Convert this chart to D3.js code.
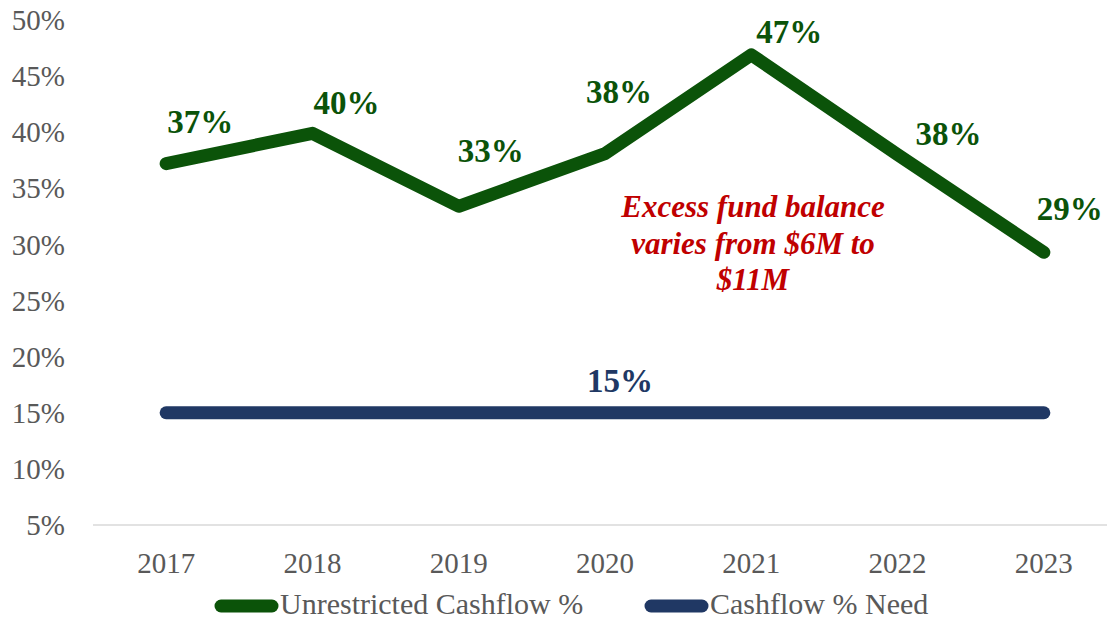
<!DOCTYPE html>
<html>
<head>
<meta charset="utf-8">
<script src="https://cdn.jsdelivr.net/npm/d3@7"></script>
<style>
  body { margin: 0; background: #fff; }
</style>
</head>
<body>
<svg id="chart" width="1107" height="621" font-family="'Liberation Serif', 'DejaVu Serif', serif"></svg>
<script>
"use strict";

// === Data ===
let years = ["2017", "2018", "2019", "2020", "2021", "2022", "2023"];
let unrestricted = [37.2, 39.9, 33.4, 38.1, 46.9, 38.0, 29.3];
let need = [15, 15, 15, 15, 15, 15, 15];
let yTicks = [5, 10, 15, 20, 25, 30, 35, 40, 45, 50];
let seriesNames = ["Unrestricted Cashflow %", "Cashflow % Need"];
let note = ["Excess fund balance", "varies from $6M to", "$11M"];

// label nudges (px from point), placed by hand like the original
let labelShift = [[34, -31], [34, -19], [32, -44], [14, -51], [38, -12], [51, -10], [26, -32]];
let needLabelShift = [15, -21];

let green = "#0b5309";
let navy = "#203864";
let grey = "#595959";

let svg = d3.select("#chart");

let x = d3.scaleBand().domain(years).range([93, 1117]);
let y = d3.scaleLinear().domain([5, 50]).range([525, 20]);
let cx = d => x(d) + x.bandwidth() / 2;

// === Y axis labels ===
svg.append("g")
  .selectAll("text")
  .data(yTicks)
  .join("text")
  .attr("x", 65)
  .attr("y", d => y(d))
  .attr("dy", "0.35em")
  .attr("text-anchor", "end")
  .attr("font-size", 29)
  .attr("fill", grey)
  .text(d => d + "%");

// === X axis ===
svg.append("line")
  .attr("x1", 93).attr("x2", 1107)
  .attr("y1", y(5)).attr("y2", y(5))
  .attr("stroke", "#d9d9d9")
  .attr("stroke-width", 1.5);

svg.append("g")
  .selectAll("text")
  .data(years)
  .join("text")
  .attr("x", d => cx(d))
  .attr("y", 573)
  .attr("text-anchor", "middle")
  .attr("font-size", 29)
  .attr("fill", grey)
  .text(d => d);

// === Lines ===
let line = d3.line().x((d, i) => cx(years[i])).y(d => y(d));

svg.append("path")
  .datum(need)
  .attr("d", line)
  .attr("fill", "none")
  .attr("stroke", navy)
  .attr("stroke-width", 13)
  .attr("stroke-linecap", "round");

svg.append("path")
  .datum(unrestricted)
  .attr("d", line)
  .attr("fill", "none")
  .attr("stroke", green)
  .attr("stroke-width", 13)
  .attr("stroke-linecap", "round")
  .attr("stroke-linejoin", "round");

// === Data labels ===
svg.append("g")
  .selectAll("text")
  .data(unrestricted)
  .join("text")
  .attr("x", (d, i) => cx(years[i]) + labelShift[i][0])
  .attr("y", (d, i) => y(d) + labelShift[i][1])
  .attr("text-anchor", "middle")
  .attr("font-size", 33)
  .attr("font-weight", "bold")
  .attr("fill", green)
  .text(d => Math.round(d) + "%");

svg.append("text")
  .attr("x", cx(years[3]) + needLabelShift[0])
  .attr("y", y(need[3]) + needLabelShift[1])
  .attr("text-anchor", "middle")
  .attr("font-size", 33)
  .attr("font-weight", "bold")
  .attr("fill", navy)
  .text(need[3] + "%");

// === Annotation ===
svg.append("g")
  .selectAll("text")
  .data(note)
  .join("text")
  .attr("x", 753)
  .attr("y", (d, i) => 217 + i * 36.5)
  .attr("text-anchor", "middle")
  .attr("font-size", 31)
  .attr("font-weight", "bold")
  .attr("font-style", "italic")
  .attr("fill", "#c00000")
  .text(d => d);

// === Legend ===
let legendPos = [{ x: 215, w: 63 }, { x: 645, w: 63 }];
let legendColors = [green, navy];
seriesNames.forEach((name, i) => {
  let g = svg.append("g");
  g.append("line")
    .attr("x1", legendPos[i].x + 6).attr("x2", legendPos[i].x + legendPos[i].w - 6)
    .attr("y1", 606).attr("y2", 606)
    .attr("stroke", legendColors[i])
    .attr("stroke-width", 13)
    .attr("stroke-linecap", "round");
  g.append("text")
    .attr("x", legendPos[i].x + legendPos[i].w + 2)
    .attr("y", 614)
    .attr("font-size", 30)
    .attr("fill", grey)
    .text(name);
});
</script>
</body>
</html>
